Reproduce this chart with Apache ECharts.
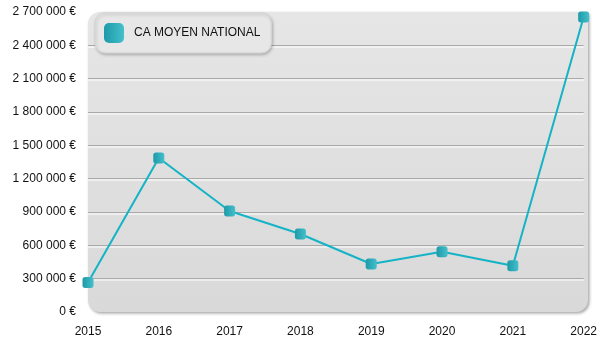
<!DOCTYPE html>
<html>
<head>
<meta charset="utf-8">
<script src="https://cdn.jsdelivr.net/npm/echarts@6/dist/echarts.min.js"></script>
<style>
  html, body { margin: 0; padding: 0; background: #fff; }
  #chart { width: 600px; height: 350px; }
</style>
</head>
<body>
<div id="chart"></div>
<script>
// Average national turnover per year
const years = ['2015', '2016', '2017', '2018', '2019', '2020', '2021', '2022'];
const caMoyenNational = [265000, 1386000, 909000, 702000, 432000, 543000, 417000, 2655000];
const seriesName = 'CA MOYEN NATIONAL';
const yMax = 2700000;
const yStep = 300000;

const GRID = { left: 88, right: 12, top: 12, bottom: 38 };
const W = 600, H = 350;

function euro(v) {
  return String(v).replace(/\B(?=(\d{3})+(?!\d))/g, ' ') + ' €';
}

const chart = echarts.init(document.getElementById('chart'), null, { renderer: 'canvas' });

const markerFill = new echarts.graphic.LinearGradient(0, 0, 1, 0, [
  { offset: 0, color: '#1d9aa8' },
  { offset: 1, color: '#44bfcb' }
]);

chart.setOption({
  animation: false,
  textStyle: { fontFamily: 'Liberation Sans, Arial, sans-serif' },
  graphic: [{
    type: 'rect',
    z: -10,
    silent: true,
    shape: {
      x: GRID.left, y: GRID.top,
      width: W - GRID.left - GRID.right,
      height: H - GRID.top - GRID.bottom,
      r: [12, 2, 12, 12]
    },
    style: {
      fill: new echarts.graphic.LinearGradient(0, 0, 0, 1, [
        { offset: 0, color: '#e6e6e6' },
        { offset: 1, color: '#d9d9d9' }
      ]),
      shadowColor: 'rgba(0,0,0,0.35)',
      shadowBlur: 3,
      shadowOffsetX: 1.5,
      shadowOffsetY: 1.5
    }
  }],
  grid: GRID,
  legend: {
    left: 95,
    top: 13,
    data: [seriesName],
    icon: 'roundRect',
    itemWidth: 20,
    itemHeight: 20,
    padding: [10, 11, 10, 9],
    backgroundColor: '#e7e7e7',
    borderColor: '#d4d4d4',
    borderWidth: 1,
    borderRadius: 10,
    shadowColor: 'rgba(0,0,0,0.22)',
    shadowBlur: 3,
    shadowOffsetX: 1,
    shadowOffsetY: 1.5,
    textStyle: { fontSize: 12, color: '#111', padding: [0, 0, 0, 5] }
  },
  xAxis: {
    type: 'category',
    data: years,
    boundaryGap: false,
    axisLine: { show: false },
    axisTick: { show: false },
    axisLabel: { fontSize: 12, color: '#111', margin: 14 },
    splitLine: { show: false }
  },
  yAxis: {
    type: 'value',
    min: 0,
    max: yMax,
    interval: yStep,
    axisLine: { show: false },
    axisTick: { show: false },
    axisLabel: { fontSize: 12, color: '#111', margin: 12, formatter: euro },
    splitLine: {
      show: true,
      showMinLine: false,
      showMaxLine: false,
      lineStyle: {
        color: '#a9a9a9',
        width: 1,
        shadowColor: '#ffffff',
        shadowBlur: 0,
        shadowOffsetY: 1.5
      }
    }
  },
  series: [{
    name: seriesName,
    type: 'line',
    data: caMoyenNational,
    clip: true,
    symbol: 'roundRect',
    symbolSize: 11,
    showAllSymbol: true,
    lineStyle: { color: '#14b3c5', width: 2 },
    itemStyle: { color: markerFill, borderWidth: 0 }
  }]
});
</script>
</body>
</html>
